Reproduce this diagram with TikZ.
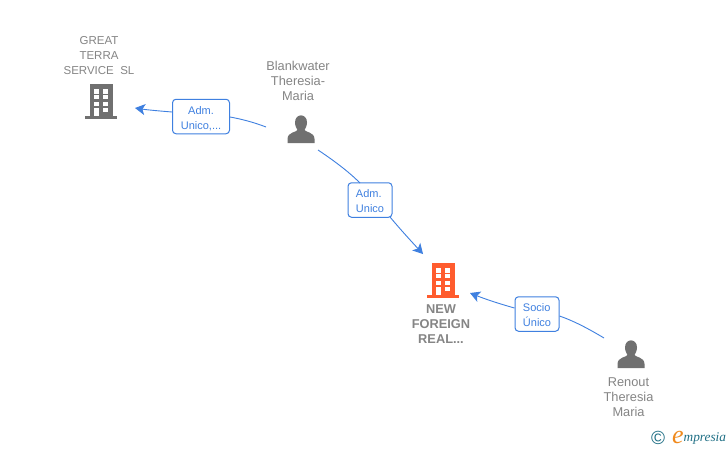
\documentclass[tikz,border=0pt]{standalone}
\usepackage{fontspec}
\setmainfont{Liberation Sans}
\newfontfamily\logofont{Liberation Serif}
\usetikzlibrary{arrows.meta}
\definecolor{edgeblue}{HTML}{3F80E0}
\definecolor{txtgray}{HTML}{858585}
\definecolor{icongray}{HTML}{707070}
\definecolor{bldorange}{HTML}{FF5C2E}
\definecolor{logoteal}{HTML}{1F6F85}
\definecolor{logoorange}{HTML}{F08A1D}
\tikzset{
  caps text/.style={text=txtgray,font=\fontsize{11.5}{15}\selectfont,align=center,inner sep=0pt},
  name text/.style={text=txtgray,font=\fontsize{12.8}{15}\selectfont,align=center,inner sep=0pt},
  main text/.style={text=txtgray,font=\fontsize{12.8}{15}\selectfont\bfseries,align=center,inner sep=0pt},
  role box/.style={draw=edgeblue,line width=1pt,rounded corners=3.5pt,fill=white,text=edgeblue,
    font=\fontsize{11}{15}\selectfont,align=center,inner sep=0pt,minimum height=34.5pt,
    text height=27pt,text depth=2pt},
  link/.style={draw=edgeblue,line width=0.9pt},
  tipped/.style={link,-{Stealth[length=10pt,width=11pt,inset=2.5pt]}},
  pics/building/.style={code={
    \fill[#1] (-11.5,-16.5) rectangle (11.5,15);
    \fill[#1] (-16,15) rectangle (16,18);
    \foreach \r/\h in {-11.5/4.5,-5.5/4,1.2/4}{
      \fill[white] (-6.7,\r) rectangle (-1.7,\r+\h);
      \fill[white] (2,\r) rectangle (7,\r+\h);
    }
    \fill[white] (2,7.2) rectangle (7,11.8);
    \fill[white] (-6.7,7.2) rectangle (-1.7,15);
  }},
  pics/person/.style={code={
    \fill[icongray] (-6,-7) .. controls (-6,-16.5) and (6,-16.5) .. (6,-7)
      .. controls (6,-3) and (4,-1) .. (3.5,0.5)
      .. controls (4,2.5) and (13.5,2.5) .. (13.5,9.5) -- (13.5,13.5) -- (-13.5,13.5) -- (-13.5,9.5)
      .. controls (-13.5,2.5) and (-4,2.5) .. (-3.5,0.5)
      .. controls (-4,-1) and (-6,-3) .. (-6,-7) -- cycle;
  }}
}
\begin{document}
\begin{tikzpicture}[x=1pt,y=-1pt]
\useasboundingbox (0,0) rectangle (728,450);
\fill[white] (0,0) rectangle (728,450);
% names
\node[caps text] (great) at (99,56) {GREAT\\TERRA\\SERVICE\ \ SL};
\node[name text] (blank) at (298,81) {Blankwater\\Theresia-\\Maria};
\node[main text] (foreign) at (441,324) {NEW\\FOREIGN\\REAL...};
\node[name text] (renout) at (628.5,397) {Renout\\Theresia\\Maria};
% icons
\pic at (101,100.5) {building=icongray};
\pic at (443,279.5) {building=bldorange};
\pic at (301,129.5) {person};
\pic at (631,354.5) {person};
% anchors of the connectors
\coordinate (greatend) at (135,108);
\coordinate (blankleft) at (266,127);
\coordinate (blankdown) at (318,150);
\coordinate (foreigntop) at (423,254);
\coordinate (foreignright) at (470,293);
\coordinate (renoutend) at (604,338);
% role labels
\node[role box,minimum width=57pt] (r1) at (201,116.5) {Adm.\\Unico,...};
\node[role box,minimum width=44pt,align=left] (r2) at (370,200) {Adm.\\Unico};
\node[role box,minimum width=44pt,align=left] (r3) at (537,314) {Socio\\Único};
% connectors
\draw[link] (blankleft) .. controls (253,122) and (241,119) .. (r1.east |- 0,117);
\draw[tipped] (r1.west |- 0,112) .. controls (160,111) and (148,110) .. (greatend);
\draw[link] (blankdown) .. controls (333,160) and (348,171) .. (360,183);
\draw[tipped] (390,217) .. controls (400,229) and (411,241) .. (foreigntop);
\draw[link] (renoutend) .. controls (589,329) and (574,321) .. (r3.east |- 0,316);
\draw[tipped] (r3.west |- 0,308) .. controls (500,304) and (485,299) .. (foreignright);
% logo
\node[text=logoteal,inner sep=0pt,font=\fontsize{19}{19}\selectfont] (copy) at (658,438) {©};
\node[text=logoorange,inner sep=0pt,font=\logofont\itshape\fontsize{26}{26}\selectfont] (logoe) at (678,437) {e};
\node[text=logoteal,inner sep=0pt,anchor=west,font=\logofont\itshape\fontsize{13.3}{14}\selectfont] (logot) at (683.5,439) {mpresia};
\end{tikzpicture}
\end{document}
